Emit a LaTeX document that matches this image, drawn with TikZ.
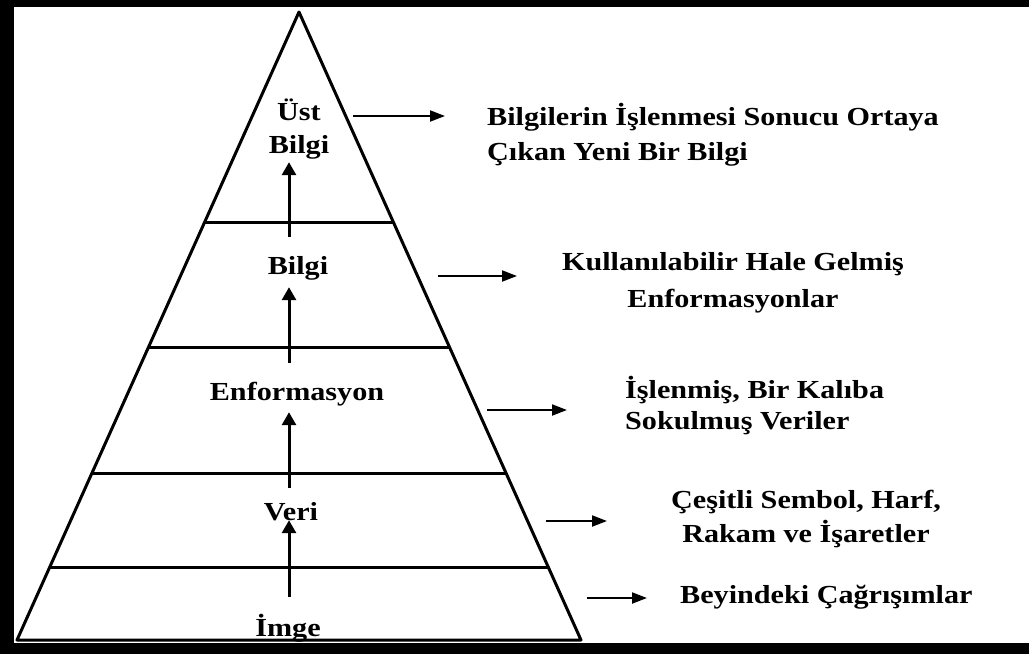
\documentclass[tikz,border=0pt]{standalone}
\usepackage{fontspec}
\newfontfamily\labfont{Liberation Serif}[FakeStretch=1.16]
\usetikzlibrary{arrows.meta,calc}
\begin{document}
\begin{tikzpicture}[x=1pt,y=-1pt,
  edge/.style={line width=3pt,line join=round},
  tier/.style={line width=3pt},
  uparrow/.style={line width=3pt,-{Triangle[width=14pt,length=13pt]}},
  sidearrow/.style={line width=2pt,-{Triangle[width=11pt,length=15pt]}},
  lab/.style={font=\labfont\bfseries\fontsize{26}{33}\selectfont,
    inner sep=0pt,text height=18pt,text depth=0pt,anchor=base},
  desc/.style={font=\labfont\bfseries\fontsize{26}{#1}\selectfont,inner sep=0pt},
]
\useasboundingbox (0,0) rectangle (1029,654);

% black frame round the white sheet
\fill[black] (0,0) rectangle (1029,654);
\fill[white] (14,7) rectangle (1029,643);

% pyramid outline and its tiers
\coordinate (apex) at (299,12);
\coordinate (bl) at (17,640);
\coordinate (br) at (581,640);
\draw[edge] (bl) -- (apex) -- (br) -- cycle;
\foreach \t in {0.3344,0.5350,0.7341,0.8838}
  \draw[tier] ($(apex)!\t!(bl)$) -- ($(apex)!\t!(br)$);

% tier labels
\node[lab] (ust1) at (299,120) {Üst};
\node[lab] (ust2) at (299,153) {Bilgi};
\node[lab] (bilgi) at (298,274) {Bilgi};
\node[lab] (enf) at (297,400) {Enformasyon};
\node[lab] (veri) at (291,520) {Veri};
\node[lab] (imge) at (288,636) {İmge};

% upward arrows between tiers
\coordinate (axis) at (289,0);
\draw[uparrow,shorten <=21pt] (imge.north -| axis) -- (veri.south -| axis);
\draw[uparrow,shorten <=14pt,shorten >=12pt] (veri.north -| axis) -- (enf.south -| axis);
\draw[uparrow,shorten <=19pt,shorten >=13pt] (enf.north -| axis) -- (bilgi.south -| axis);
\draw[uparrow,shorten <=19pt,shorten >=9pt] (bilgi.north -| axis) -- (ust2.south -| axis);

% descriptions
\node[desc=35,anchor=base west] (d1) at (487,125)
  {\begin{tabular}[t]{@{}l@{}}Bilgilerin İşlenmesi Sonucu Ortaya\\Çıkan Yeni Bir Bilgi\end{tabular}};
\node[desc=37,anchor=base] (d2) at (733,270)
  {\begin{tabular}[t]{@{}c@{}}Kullanılabilir Hale Gelmiş\\Enformasyonlar\end{tabular}};
\node[desc=31,anchor=base west] (d3) at (625,398)
  {\begin{tabular}[t]{@{}l@{}}İşlenmiş, Bir Kalıba\\Sokulmuş Veriler\end{tabular}};
\node[desc=34,anchor=base] (d4) at (806,508)
  {\begin{tabular}[t]{@{}c@{}}Çeşitli Sembol, Harf,\\Rakam ve İşaretler\end{tabular}};
\node[desc=34,anchor=base west] (d5) at (680,603) {Beyindeki Çağrışımlar};

% side arrows pointing to the descriptions
\coordinate (s1) at (353,116); \coordinate (e1) at (445,116);
\coordinate (s2) at (438,276); \coordinate (e2) at (517,276);
\coordinate (s3) at (487,410); \coordinate (e3) at (567,410);
\coordinate (s4) at (546,521); \coordinate (e4) at (607,521);
\coordinate (s5) at (587,598); \coordinate (e5) at (647,598);
\foreach \i in {1,...,5}
  \draw[sidearrow] (s\i) -- (e\i);
\end{tikzpicture}
\end{document}
